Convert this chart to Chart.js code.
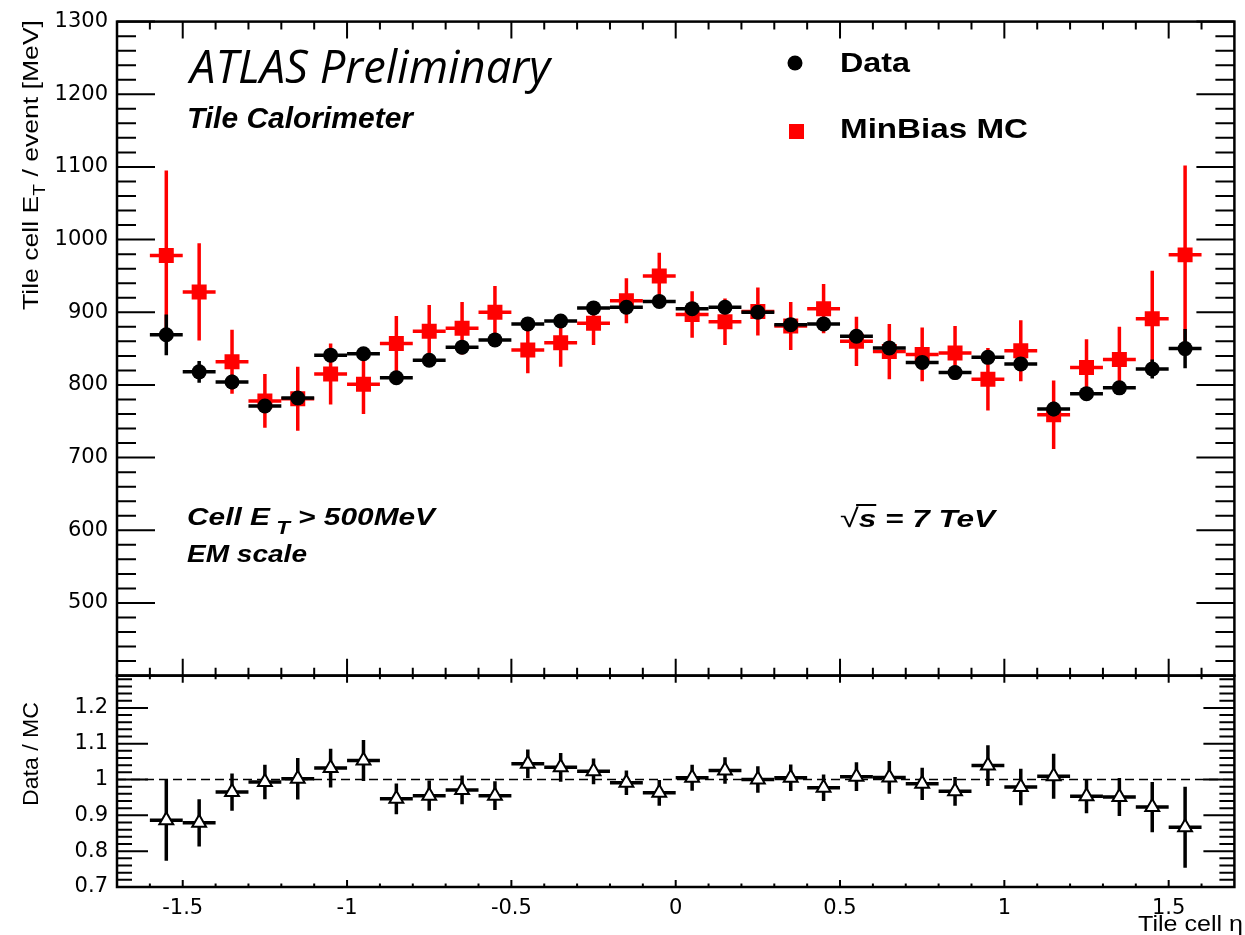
<!DOCTYPE html>
<html>
<head>
<meta charset="utf-8">
<script src="https://cdn.jsdelivr.net/npm/chart.js@4.4.1/dist/chart.umd.min.js"></script>
<style>
  html, body { margin: 0; padding: 0; background: #fff; }
  #wrap { width: 1245px; height: 935px; }
</style>
</head>
<body>
<div id="wrap"><canvas id="etaChart" width="1245" height="935"></canvas></div>
<script>
// bin centres in tile cell eta
const etaBins = [-1.55, -1.45, -1.35, -1.25, -1.15, -1.05, -0.95, -0.85, -0.75, -0.65, -0.55,
                 -0.45, -0.35, -0.25, -0.15, -0.05, 0.05, 0.15, 0.25, 0.35, 0.45, 0.55,
                 0.65, 0.75, 0.85, 0.95, 1.05, 1.15, 1.25, 1.35, 1.45, 1.55];
const binHalfWidth = 0.05;

// Tile cell E_T / event [MeV]
const dataEt  = [869, 818, 804, 771, 782, 841, 843, 810, 834, 852, 862,
                 884, 888, 906, 907, 915, 905, 907, 900, 883, 884, 867,
                 851, 831, 817, 838, 829, 767, 788, 796, 822, 850];
const dataErr = [28, 15, 10, 8, 8, 8, 8, 7, 7, 7, 7,
                 7, 7, 7, 7, 7, 7, 7, 7, 7, 7, 8,
                 8, 8, 8, 8, 8, 10, 8, 9, 13, 27];
const mcEt    = [978, 928, 832, 778, 781, 815, 801, 857, 874, 878, 900,
                 848, 858, 885, 916, 950, 897, 887, 901, 881, 905, 860,
                 846, 842, 844, 808, 847, 759, 824, 835, 891, 979];
const mcErr   = [117, 67, 44, 37, 44, 42, 41, 38, 36, 36, 36,
                 32, 33, 30, 31, 32, 32, 32, 33, 33, 34, 34,
                 38, 37, 37, 43, 42, 47, 39, 45, 66, 123];

// Data / MC
const ratio    = [0.886, 0.879, 0.965, 0.993, 1.002, 1.032, 1.053, 0.946, 0.955, 0.971, 0.955,
                  1.044, 1.034, 1.023, 0.991, 0.963, 1.005, 1.025, 1.000, 1.005, 0.977, 1.008,
                  1.006, 0.988, 0.967, 1.039, 0.979, 1.009, 0.953, 0.951, 0.923, 0.867];
const ratioErr = [0.113, 0.066, 0.052, 0.048, 0.058, 0.054, 0.057, 0.043, 0.042, 0.040, 0.040,
                  0.040, 0.040, 0.036, 0.034, 0.036, 0.036, 0.037, 0.037, 0.037, 0.037, 0.040,
                  0.046, 0.045, 0.040, 0.057, 0.051, 0.063, 0.047, 0.053, 0.070, 0.113];

const xTicks = [-1.5, -1, -0.5, 0, 0.5, 1, 1.5];
const etTicks = [500, 600, 700, 800, 900, 1000, 1100, 1200, 1300];
const ratioTicks = [0.7, 0.8, 0.9, 1, 1.1, 1.2];

const sans = '"Liberation Sans", Arial, Helvetica, sans-serif';

function points(ys) {
  return etaBins.map((x, i) => ({ x: x, y: ys[i] }));
}

// horizontal bin bar + vertical error bar, drawn just under each dataset's markers
const errorBars = {
  id: 'errorBars',
  beforeDatasetDraw(chart, args) {
    const ds = chart.data.datasets[args.index];
    if (!ds.errors) return;
    const xs = chart.scales.x;
    const ys = chart.scales[ds.yAxisID];
    const ctx = chart.ctx;
    ctx.save();
    ctx.strokeStyle = ds.barColor;
    ctx.lineWidth = 3.5;
    ds.data.forEach((p, i) => {
      const px = xs.getPixelForValue(p.x);
      const py = ys.getPixelForValue(p.y);
      ctx.beginPath();
      ctx.moveTo(xs.getPixelForValue(p.x - binHalfWidth), py);
      ctx.lineTo(xs.getPixelForValue(p.x + binHalfWidth), py);
      ctx.moveTo(px, ys.getPixelForValue(p.y + ds.errors[i]));
      ctx.lineTo(px, ys.getPixelForValue(p.y - ds.errors[i]));
      ctx.stroke();
    });
    ctx.restore();
  }
};

// ROOT style frames with inward ticks, and the dashed line at ratio 1
const frames = {
  id: 'frames',
  beforeDatasetsDraw(chart) {
    const { ctx, scales: { x, yr } } = chart;
    const py = yr.getPixelForValue(1);
    ctx.save();
    ctx.strokeStyle = '#000';
    ctx.lineWidth = 1.5;
    ctx.setLineDash([9, 5]);
    ctx.beginPath();
    ctx.moveTo(x.left, py);
    ctx.lineTo(x.right, py);
    ctx.stroke();
    ctx.restore();
  },
  afterDatasetsDraw(chart) {
    const { ctx, scales: { x, y, yr } } = chart;
    const L = x.left, R = x.right;
    ctx.save();
    ctx.strokeStyle = '#000';
    ctx.lineWidth = 2;
    const panels = [
      { s: y, xMaj: 17, xMin: 8, yMaj: 38, yMin: 19, from: 20, to: 65, step: 20, every: 5 },
      { s: yr, xMaj: 7, xMin: 3.5, yMaj: 31, yMin: 15, from: 35, to: 64, step: 0.02, every: 5 }
    ];
    panels.forEach(p => {
      const top = p.s.top, bot = p.s.bottom;
      ctx.beginPath();
      for (let k = -16; k <= 16; k++) {
        const px = x.getPixelForValue(k / 10);
        const len = k % 5 === 0 ? p.xMaj : p.xMin;
        ctx.moveTo(px, top); ctx.lineTo(px, top + len);
        ctx.moveTo(px, bot); ctx.lineTo(px, bot - len);
      }
      for (let k = p.from; k <= p.to; k++) {
        const py = p.s.getPixelForValue(k * p.step);
        const len = k % p.every === 0 ? p.yMaj : p.yMin;
        ctx.moveTo(L, py); ctx.lineTo(L + len, py);
        ctx.moveTo(R, py); ctx.lineTo(R - len, py);
      }
      ctx.stroke();
      ctx.lineWidth = 2.5;
      ctx.strokeRect(L, top, R - L, bot - top);
      ctx.lineWidth = 2;
    });
    ctx.restore();
  }
};

// text stretched to the width measured on the reference
function drawRich(ctx, segs, x, y, width) {
  let total = 0;
  segs.forEach(s => { ctx.font = s.font; s.w = ctx.measureText(s.text).width; total += s.w; });
  ctx.save();
  ctx.translate(x, y);
  ctx.scale(width / total, 1);
  ctx.fillStyle = '#000';
  ctx.textBaseline = 'alphabetic';
  let cx = 0;
  segs.forEach(s => {
    ctx.font = s.font;
    ctx.fillText(s.text, cx, s.dy || 0);
    if (s.over) ctx.fillRect(cx - 2, s.over, s.w + 2, 2);
    cx += s.w;
  });
  ctx.restore();
}

const annotations = {
  id: 'annotations',
  afterDraw(chart) {
    const ctx = chart.ctx;
    const bi = sz => 'italic bold ' + sz + 'px ' + sans;
    const b = sz => 'bold ' + sz + 'px ' + sans;
    const n = sz => sz + 'px ' + sans;

    drawRich(ctx, [{ text: 'ATLAS Preliminary', font: 'italic 46px "Open Sans", "Liberation Sans", sans-serif' }], 190, 83, 360);
    drawRich(ctx, [{ text: 'Tile Calorimeter', font: bi(29) }], 187, 128, 226);

    // legend
    ctx.save();
    ctx.fillStyle = '#000';
    ctx.beginPath(); ctx.arc(795, 63, 7.5, 0, Math.PI * 2); ctx.fill();
    ctx.fillStyle = '#ff0000';
    ctx.fillRect(789, 124, 15, 15);
    ctx.restore();
    drawRich(ctx, [{ text: 'Data', font: b(27) }], 840, 72, 70);
    drawRich(ctx, [{ text: 'MinBias MC', font: b(27) }], 840, 138, 188);

    drawRich(ctx, [
      { text: 'Cell E', font: bi(24) },
      { text: ' T', font: bi(18), dy: 9 },
      { text: ' > 500MeV', font: bi(24) }
    ], 187, 525, 248);
    drawRich(ctx, [{ text: 'EM scale', font: bi(24) }], 187, 562, 120);
    drawRich(ctx, [
      { text: '\u221A', font: n(26) },
      { text: 's', font: bi(24), over: -23 },
      { text: ' = 7 TeV', font: bi(24) }
    ], 840, 527, 155);

    // axis titles
    ctx.save();
    ctx.translate(38, 310);
    ctx.rotate(-Math.PI / 2);
    drawRich(ctx, [
      { text: 'Tile cell E', font: n(22) },
      { text: 'T', font: n(16), dy: 7 },
      { text: ' / event [MeV]', font: n(22) }
    ], 0, 0, 290);
    ctx.restore();

    ctx.save();
    ctx.translate(38, 806);
    ctx.rotate(-Math.PI / 2);
    drawRich(ctx, [{ text: 'Data / MC', font: n(22) }], 0, 0, 104);
    ctx.restore();

    drawRich(ctx, [{ text: 'Tile cell \u03B7', font: n(22) }], 1138, 931, 105);
  }
};

const tickFont = { family: '"DejaVu Sans", sans-serif', size: 21 };

new Chart(document.getElementById('etaChart'), {
  type: 'scatter',
  data: {
    datasets: [
      {
        label: 'Data',
        data: points(dataEt),
        errors: dataErr,
        barColor: '#000',
        yAxisID: 'y',
        pointStyle: 'circle',
        pointRadius: 7.5,
        pointBorderWidth: 0,
        backgroundColor: '#000',
        borderColor: '#000'
      },
      {
        label: 'MinBias MC',
        data: points(mcEt),
        errors: mcErr,
        barColor: '#ff0000',
        yAxisID: 'y',
        pointStyle: 'rect',
        pointRadius: 10.6,
        pointBorderWidth: 0,
        backgroundColor: '#ff0000',
        borderColor: '#ff0000'
      },
      {
        label: 'Data / MC',
        data: points(ratio),
        errors: ratioErr,
        barColor: '#000',
        yAxisID: 'yr',
        pointStyle: 'triangle',
        pointRadius: 8,
        pointBorderWidth: 2,
        backgroundColor: '#fff',
        borderColor: '#000'
      }
    ]
  },
  options: {
    responsive: false,
    animation: false,
    events: [],
    layout: { padding: { top: 19, right: 2, left: 0, bottom: 0 } },
    plugins: { legend: { display: false }, tooltip: { enabled: false } },
    scales: {
      x: {
        type: 'linear',
        position: 'bottom',
        min: -1.7,
        max: 1.7,
        grid: { display: false, drawTicks: false },
        border: { display: false },
        afterBuildTicks: s => { s.ticks = xTicks.map(v => ({ value: v })); },
        afterFit: s => { s.height = 48; },
        ticks: {
          autoSkip: false, maxRotation: 0, padding: 9, color: '#000', font: tickFont,
          callback: v => String(v)
        }
      },
      y: {
        type: 'linear',
        position: 'left',
        stack: 'panels',
        stackWeight: 656,
        weight: 2,
        min: 400,
        max: 1300,
        grid: { display: false, drawTicks: false },
        border: { display: false },
        afterBuildTicks: s => { s.ticks = etTicks.map(v => ({ value: v })); },
        afterFit: s => { s.width = 117; },
        ticks: { autoSkip: false, padding: 9, color: '#000', font: tickFont, callback: v => String(v) }
      },
      yr: {
        type: 'linear',
        position: 'left',
        stack: 'panels',
        stackWeight: 212,
        weight: 1,
        min: 0.7,
        max: 1.29,
        grid: { display: false, drawTicks: false },
        border: { display: false },
        afterBuildTicks: s => { s.ticks = ratioTicks.map(v => ({ value: v })); },
        afterFit: s => { s.width = 117; },
        ticks: {
          autoSkip: false, padding: 9, color: '#000', font: tickFont,
          callback: v => String(Math.round(v * 10) / 10)
        }
      }
    }
  },
  plugins: [frames, errorBars, annotations]
});
</script>
</body>
</html>
